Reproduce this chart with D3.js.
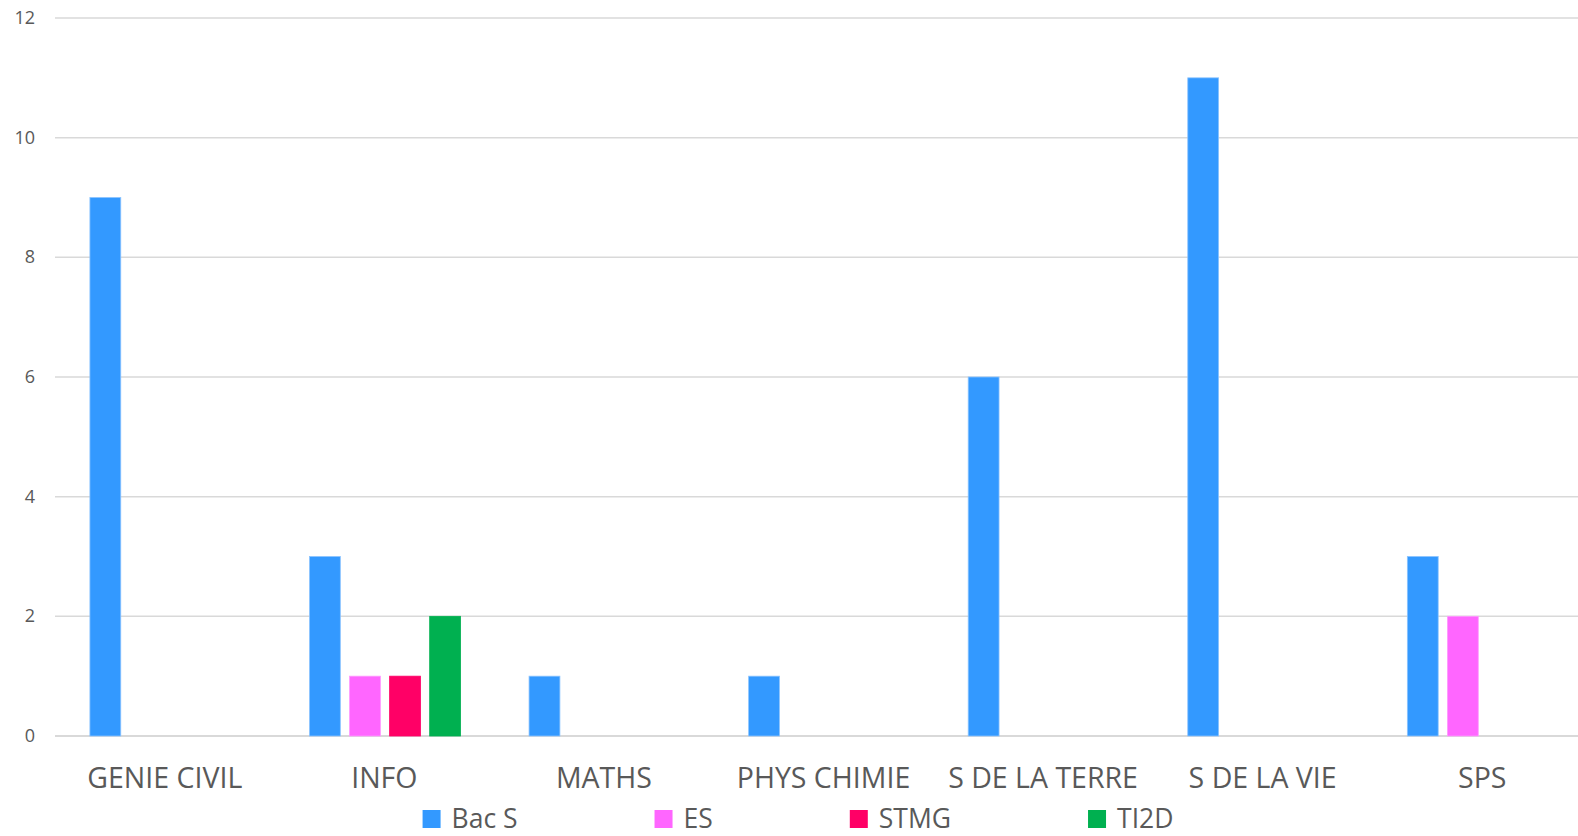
<!DOCTYPE html>
<html>
<head>
<meta charset="utf-8">
<script src="https://cdn.jsdelivr.net/npm/d3@7"></script>
<style>
  body { margin: 0; background: #fff; }
  text { font-family: "Open Sans", sans-serif; fill: #595959; }
</style>
</head>
<body>
<script>
// data
const categories = ["GENIE CIVIL", "INFO", "MATHS", "PHYS CHIMIE", "S DE LA TERRE", "S DE LA VIE", "SPS"]
const seriesNames = ["Bac S", "ES", "STMG", "TI2D"]
const bacS = [9, 3, 1, 1, 6, 11, 3]
const es = [0, 1, 0, 0, 0, 0, 2]
const stmg = [0, 1, 0, 0, 0, 0, 0]
const ti2d = [0, 2, 0, 0, 0, 0, 0]
const yTicks = [0, 2, 4, 6, 8, 10, 12]
const colors = ["#3399ff", "#ff66ff", "#ff0066", "#00b050"]
const strokes = ["#8cc4ff", "#ff99ff", "#ff0066", "#00b050"]

const width = 1578, height = 836
const plot = {left: 55, right: 1592, top: 18, bottom: 736}

const svg = d3.select('body').append('svg')
    .attr('width', width)
    .attr('height', height)

// scales
const x0 = d3.scaleBand()
    .domain(categories)
    .range([plot.left, plot.right])

const bw = x0.bandwidth()
const x1 = d3.scaleBand()
    .domain(seriesNames)
    .range([0.159 * bw, 0.847 * bw])
    .paddingInner(0.23)

const y = d3.scaleLinear()
    .domain([0, 12])
    .range([plot.bottom, plot.top])

// gridlines
svg.append('g')
    .selectAll('line')
    .data(yTicks)
    .enter()
    .append('line')
        .attr('x1', plot.left)
        .attr('x2', width)
        .attr('y1', d => y(d))
        .attr('y2', d => y(d))
        .attr('stroke', '#d9d9d9')
        .attr('stroke-width', d => d == 0 ? 2 : 1.5)

// y tick labels
svg.append('g')
    .selectAll('text')
    .data(yTicks)
    .enter()
    .append('text')
        .attr('x', 35)
        .attr('y', d => y(d) + 6)
        .attr('text-anchor', 'end')
        .style('font-size', '18px')
        .text(d => d)

// bars
const allSeries = [bacS, es, stmg, ti2d]
const rows = []
allSeries.forEach((vals, si) => {
    vals.forEach((v, ci) => {
        if (v > 0) rows.push({cat: categories[ci], s: seriesNames[si], si: si, v: v})
    })
})

svg.append('g')
    .selectAll('rect')
    .data(rows)
    .enter()
    .append('rect')
        .attr('x', d => x0(d.cat) + x1(d.s))
        .attr('y', d => y(d.v))
        .attr('width', x1.bandwidth())
        .attr('height', d => y(0) - y(d.v))
        .attr('fill', d => colors[d.si])
        .attr('stroke', d => strokes[d.si])
        .attr('stroke-width', 0.8)

// category labels
svg.append('g')
    .selectAll('text')
    .data(categories)
    .enter()
    .append('text')
        .attr('x', d => x0(d) + bw / 2)
        .attr('y', 788)
        .attr('text-anchor', 'middle')
        .style('font-size', '28.5px')
        .text(d => d)

// legend
const legend = svg.append('g')
const items = legend.selectAll('g')
    .data(seriesNames)
    .enter()
    .append('g')

items.append('rect')
    .attr('width', 18)
    .attr('height', 18)
    .attr('y', 810)
    .attr('fill', (d, i) => colors[i])

items.append('text')
    .attr('x', 29)
    .attr('y', 828)
    .style('font-size', '26.5px')
    .text(d => d)

let pos = 0
const gap = 137
items.each(function() {
    const g = d3.select(this)
    g.attr('transform', 'translate(' + pos + ',0)')
    pos += 29 + g.select('text').node().getComputedTextLength() + gap
})
const totalW = pos - gap
legend.attr('transform', 'translate(' + (798 - totalW / 2) + ',0)')
</script>
</body>
</html>
